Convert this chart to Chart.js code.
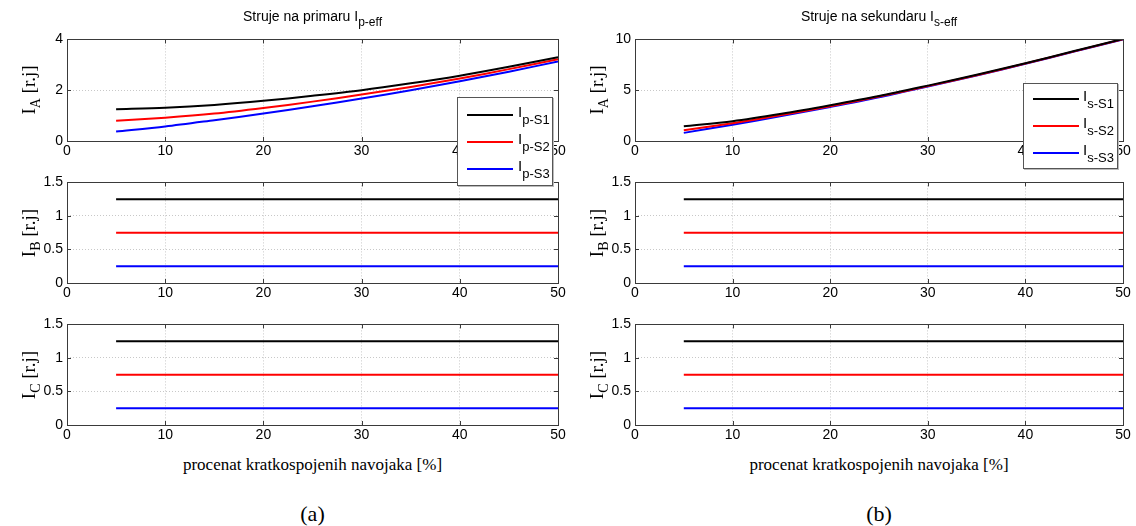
<!DOCTYPE html>
<html>
<head>
<meta charset="utf-8">
<script src="https://cdn.jsdelivr.net/npm/chart.js@4.4.1/dist/chart.umd.min.js"></script>
<style>
  html, body { margin:0; padding:0; background:#fff; }
  body { width:1136px; height:526px; position:relative; overflow:hidden; }
  .cv { position:absolute; }
  .txt { position:absolute; white-space:nowrap; color:#000; }
  .title { font-family:"Liberation Sans", Arial, sans-serif; font-size:14px; transform:translateX(-50%); }
  .title sub { font-size:12px; vertical-align:-5px; }
  .ylab { font-family:"Liberation Serif", "Times New Roman", serif; font-size:19px; transform:translate(-50%,-50%) rotate(-90deg); }
  .ylab sub { font-size:14px; vertical-align:-5px; }
  .xlab { font-family:"Liberation Serif", "Times New Roman", serif; font-size:17px; transform:translate(-50%,-50%); }
  .cap { font-family:"Liberation Serif", "Times New Roman", serif; font-size:22px; transform:translate(-50%,-50%); }
  .legend { position:absolute; background:#fff; border:1px solid #555; box-shadow:1px 1px 0 #bbb; z-index:5;
            font-family:"Liberation Sans", Arial, sans-serif; white-space:nowrap; }
  .li { position:absolute; left:0; width:100%; height:20px; }
  .li .ln { position:absolute; top:0; height:0; border-top-width:2px; border-top-style:solid; }
  .li .lt { position:absolute; top:-11px; font-size:15px; white-space:nowrap; }
  .li .lt sub { font-size:13px; vertical-align:-7px; }
</style>
</head>
<body>
<script>
// ---------------- DATA ----------------
const xPct = [5, 10, 15, 20, 25, 30, 35, 40, 45, 50];
// Primary effective currents, phase A
const ipA_S1 = [1.25, 1.31, 1.42, 1.58, 1.78, 2.00, 2.27, 2.57, 2.92, 3.30];
const ipA_S2 = [0.80, 0.92, 1.08, 1.30, 1.55, 1.83, 2.13, 2.46, 2.83, 3.22];
const ipA_S3 = [0.37, 0.57, 0.82, 1.08, 1.37, 1.67, 2.00, 2.35, 2.73, 3.13];
// Secondary effective currents, phase A
const isA_S1 = [1.45, 1.95, 2.68, 3.52, 4.42, 5.45, 6.52, 7.65, 8.85, 10.05];
const isA_S2 = [1.05, 1.75, 2.55, 3.42, 4.37, 5.40, 6.48, 7.62, 8.82, 10.02];
const isA_S3 = [0.80, 1.60, 2.45, 3.35, 4.30, 5.37, 6.45, 7.60, 8.80, 10.00];
// Phases B and C (flat)
const xFlat = [5, 50];
const ipB_S1 = [1.25, 1.25], ipB_S2 = [0.75, 0.75], ipB_S3 = [0.25, 0.25];
const ipC_S1 = [1.25, 1.25], ipC_S2 = [0.75, 0.75], ipC_S3 = [0.25, 0.25];
const isB_S1 = [1.25, 1.25], isB_S2 = [0.75, 0.75], isB_S3 = [0.25, 0.25];
const isC_S1 = [1.25, 1.25], isC_S2 = [0.75, 0.75], isC_S3 = [0.25, 0.25];
// Axes / labels
const xTicks = [0, 10, 20, 30, 40, 50];
const yTicksPA = [0, 2, 4];
const yTicksSA = [0, 5, 10];
const yTicksBC = [0, 0.5, 1, 1.5];
const seriesColors = ['#000000', '#ff0000', '#0000ff'];
const legendP = ['p-S1', 'p-S2', 'p-S3'];
const legendS = ['s-S1', 's-S2', 's-S3'];
const titles = ['Struje na primaru I<sub>p-eff</sub>', 'Struje na sekundaru I<sub>s-eff</sub>'];
const yLabels = ['I<sub>A</sub> [r.j]', 'I<sub>B</sub> [r.j]', 'I<sub>C</sub> [r.j]'];
const xLabel = 'procenat kratkospojenih navojaka [%]';
const captions = ['(a)', '(b)'];

// ---------------- LAYOUT ----------------
const cols = [[67, 558], [635, 1123]];
const rows = [[39, 141], [182, 283], [324, 425]];
const PADL = 45, PADT = 12, PADR = 15, PADB = 28;

const frame = {
  id: 'frame',
  afterDraw(chart) {
    const a = chart.chartArea, ctx = chart.ctx;
    ctx.save();
    ctx.strokeStyle = '#3a3a3a';
    ctx.lineWidth = 1;
    const xs = chart.scales.x, ys = chart.scales.y;
    ctx.beginPath();
    xs.ticks.forEach(t => {
      const px = Math.round(xs.getPixelForValue(t.value)) + 0.5;
      ctx.moveTo(px, a.bottom); ctx.lineTo(px, a.bottom - 4);
      ctx.moveTo(px, a.top); ctx.lineTo(px, a.top + 4);
    });
    ys.ticks.forEach(t => {
      const py = Math.round(ys.getPixelForValue(t.value)) + 0.5;
      ctx.moveTo(a.left, py); ctx.lineTo(a.left + 4, py);
      ctx.moveTo(a.right, py); ctx.lineTo(a.right - 4, py);
    });
    ctx.stroke();
    ctx.strokeRect(Math.round(a.left) + 0.5, Math.round(a.top) + 0.5,
                   Math.round(a.right - a.left), Math.round(a.bottom - a.top));
    ctx.restore();
  }
};

function mkData(xs, ys) { return xs.map((x, i) => ({ x: x, y: ys[i] })); }

function makePanel(col, row, xs, seriesList, yTicks, yMax) {
  const [x0, x1] = cols[col], [y0, y1] = rows[row];
  const cv = document.createElement('canvas');
  const w = (x1 - x0) + PADL + PADR, h = (y1 - y0) + PADT + PADB;
  cv.className = 'cv';
  cv.style.left = (x0 - PADL) + 'px';
  cv.style.top = (y0 - PADT) + 'px';
  cv.style.width = w + 'px'; cv.style.height = h + 'px';
  cv.width = w; cv.height = h;
  document.body.appendChild(cv);
  const tickFont = { family: '"Liberation Sans", Arial, sans-serif', size: 14 };
  new Chart(cv, {
    type: 'line',
    data: {
      datasets: seriesList.map((ys, i) => ({
        data: mkData(xs, ys),
        borderColor: seriesColors[i],
        borderWidth: 2,
        pointRadius: 0,
        tension: 0.3,
        fill: false
      }))
    },
    options: {
      responsive: false,
      animation: false,
      devicePixelRatio: 1,
      layout: { padding: { top: PADT, right: PADR, left: 0, bottom: 0 } },
      plugins: { legend: { display: false }, tooltip: { enabled: false }, title: { display: false } },
      scales: {
        x: {
          type: 'linear', min: 0, max: 50,
          afterBuildTicks(s) { s.ticks = xTicks.map(v => ({ value: v })); },
          afterFit(s) { s.height = PADB; },
          ticks: { color: '#000', font: tickFont, padding: 2, maxRotation: 0, callback: v => String(v) },
          grid: { color: '#c8c8c8', lineWidth: 1, drawTicks: false },
          border: { display: false, dash: [1, 2] }
        },
        y: {
          type: 'linear', min: 0, max: yMax,
          afterBuildTicks(s) { s.ticks = yTicks.map(v => ({ value: v })); },
          afterFit(s) { s.width = PADL; },
          ticks: { color: '#000', font: tickFont, padding: 4, callback: v => String(v) },
          grid: { color: '#c8c8c8', lineWidth: 1, drawTicks: false },
          border: { display: false, dash: [1, 2] }
        }
      }
    },
    plugins: [frame]
  });
}

function addText(cls, html, left, top) {
  const d = document.createElement('div');
  d.className = 'txt ' + cls;
  d.innerHTML = html;
  d.style.left = left + 'px'; d.style.top = top + 'px';
  document.body.appendChild(d);
}

function addLegend(left, top, w, h, names, lineX0, lineX1, textX, ys) {
  const lg = document.createElement('div');
  lg.className = 'legend';
  lg.style.left = left + 'px'; lg.style.top = top + 'px';
  lg.style.width = w + 'px'; lg.style.height = h + 'px';
  names.forEach((n, i) => {
    const it = document.createElement('div');
    it.className = 'li';
    it.style.top = ys[i] + 'px';
    const ln = document.createElement('div');
    ln.className = 'ln';
    ln.style.left = lineX0 + 'px'; ln.style.width = (lineX1 - lineX0) + 'px';
    ln.style.borderTopColor = seriesColors[i];
    const lt = document.createElement('div');
    lt.className = 'lt';
    lt.style.left = textX + 'px';
    lt.innerHTML = 'I<sub>' + n + '</sub>';
    it.appendChild(ln); it.appendChild(lt);
    lg.appendChild(it);
  });
  document.body.appendChild(lg);
}

// Left column (primary)
makePanel(0, 0, xPct, [ipA_S1, ipA_S2, ipA_S3], yTicksPA, 4);
makePanel(0, 1, xFlat, [ipB_S1, ipB_S2, ipB_S3], yTicksBC, 1.5);
makePanel(0, 2, xFlat, [ipC_S1, ipC_S2, ipC_S3], yTicksBC, 1.5);
// Right column (secondary)
makePanel(1, 0, xPct, [isA_S1, isA_S2, isA_S3], yTicksSA, 10);
makePanel(1, 1, xFlat, [isB_S1, isB_S2, isB_S3], yTicksBC, 1.5);
makePanel(1, 2, xFlat, [isC_S1, isC_S2, isC_S3], yTicksBC, 1.5);

// Text
[0, 1].forEach(c => {
  const cx = (cols[c][0] + cols[c][1]) / 2;
  addText('title', titles[c], cx, 8);
  rows.forEach((r, i) => addText('ylab', yLabels[i], cols[c][0] - 36, (r[0] + r[1]) / 2));
  addText('xlab', xLabel, cx, 465);
  addText('cap', captions[c], cx, 514);
});

addLegend(457, 97, 94, 87, legendP, 9, 55, 60, [16, 43, 70]);
addLegend(1023, 83, 93, 84, legendS, 9, 55, 59, [14, 41, 68]);
</script>
</body>
</html>
